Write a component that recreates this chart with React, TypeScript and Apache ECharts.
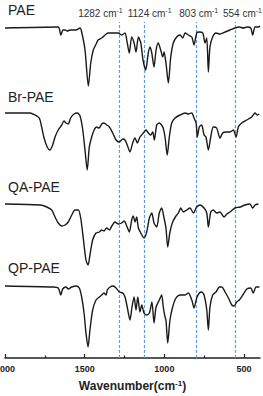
import React, { useEffect, useRef } from "react";
import * as echarts from "echarts";

// ---- data (wavenumber in cm^-1, relative transmittance) ----
const SERIES_NAMES = ["PAE", "Br-PAE", "QA-PAE", "QP-PAE"];

const PAE_WN = [2000, 1667, 1650, 1636, 1623, 1610, 1590, 1555, 1529, 1519, 1498, 1477, 1462, 1446, 1425, 1416, 1393, 1372, 1354, 1329, 1310, 1291, 1268, 1247, 1234, 1220, 1205, 1190, 1178, 1163, 1148, 1134, 1117, 1101, 1090, 1079, 1065, 1052, 1038, 1023, 1010, 1002, 990, 975, 960, 944, 923, 902, 885, 870, 850, 828, 814, 797, 781, 759, 745, 734, 724, 714, 697, 676, 651, 619, 588, 557, 530, 505, 480, 458, 446, 431, 410, 400];
const PAE_T = [100, 101, 93, 98, 98, 97, 98, 98, 100, 96, 78, 42, 65, 78, 85, 88, 90, 93, 95, 95, 95, 95, 93, 95, 86, 75, 91, 85, 76, 91, 85, 68, 58, 75, 81, 75, 61, 78, 85, 78, 71, 76, 65, 45, 71, 85, 91, 93, 90, 95, 93, 91, 83, 95, 96, 95, 85, 90, 56, 81, 91, 95, 94, 96, 98, 100, 101, 100, 101, 100, 93, 101, 101, 102];

const BR_WN = [2000, 1843, 1812, 1785, 1770, 1755, 1735, 1718, 1701, 1686, 1666, 1644, 1630, 1617, 1603, 1588, 1567, 1546, 1529, 1512, 1498, 1484, 1471, 1456, 1441, 1425, 1410, 1393, 1379, 1362, 1345, 1324, 1303, 1283, 1261, 1247, 1233, 1216, 1199, 1184, 1170, 1153, 1132, 1115, 1101, 1086, 1073, 1063, 1048, 1032, 1010, 996, 982, 969, 954, 933, 902, 870, 850, 828, 814, 801, 793, 781, 766, 751, 739, 724, 709, 693, 672, 651, 634, 613, 588, 567, 550, 536, 515, 483, 452, 431, 417, 404];
const BR_T = [100, 100, 98, 95, 86, 75, 66, 63, 68, 76, 83, 88, 92, 90, 89, 95, 99, 100, 97, 83, 63, 43, 66, 76, 83, 86, 85, 89, 90, 88, 86, 80, 73, 71, 74, 73, 68, 61, 70, 75, 70, 76, 80, 83, 80, 78, 81, 73, 88, 90, 86, 76, 58, 76, 90, 95, 98, 100, 99, 100, 95, 90, 76, 86, 88, 78, 76, 63, 76, 86, 85, 75, 80, 81, 81, 83, 76, 86, 90, 93, 96, 100, 98, 99];

const QA_WN = [2000, 1780, 1738, 1707, 1686, 1666, 1644, 1623, 1603, 1581, 1561, 1540, 1525, 1509, 1492, 1479, 1467, 1450, 1429, 1408, 1393, 1379, 1362, 1345, 1330, 1310, 1289, 1268, 1253, 1236, 1220, 1205, 1195, 1184, 1174, 1163, 1148, 1128, 1111, 1094, 1079, 1065, 1048, 1032, 1017, 1002, 990, 979, 965, 948, 927, 912, 897, 881, 860, 839, 818, 797, 776, 751, 734, 724, 709, 693, 672, 651, 626, 608, 588, 557, 525, 494, 463, 446, 431, 410];
const QA_T = [101, 100, 98, 95, 88, 82, 79, 80, 83, 90, 95, 95, 87, 67, 45, 40, 50, 65, 72, 73, 75, 74, 77, 75, 79, 83, 81, 82, 84, 79, 73, 85, 89, 83, 88, 77, 72, 67, 73, 87, 92, 82, 78, 92, 97, 87, 77, 58, 73, 83, 89, 92, 97, 93, 95, 97, 92, 98, 100, 97, 92, 78, 93, 95, 92, 93, 88, 91, 93, 97, 98, 100, 101, 97, 100, 101];

const QP_WN = [2000, 1697, 1666, 1650, 1638, 1617, 1603, 1581, 1555, 1534, 1519, 1504, 1492, 1479, 1467, 1450, 1429, 1408, 1393, 1379, 1366, 1358, 1341, 1320, 1303, 1283, 1261, 1247, 1233, 1216, 1203, 1190, 1178, 1167, 1153, 1142, 1128, 1111, 1094, 1078, 1065, 1052, 1032, 1017, 1007, 996, 990, 979, 965, 948, 927, 902, 870, 850, 828, 814, 797, 781, 766, 751, 734, 724, 714, 697, 676, 655, 640, 619, 598, 577, 563, 546, 530, 508, 483, 458, 442, 425, 404];
const QP_T = [100, 99, 98, 91, 97, 99, 97, 99, 100, 98, 89, 73, 53, 39, 56, 76, 86, 89, 91, 93, 91, 96, 99, 100, 98, 94, 93, 89, 79, 66, 79, 89, 76, 89, 74, 81, 73, 71, 73, 84, 63, 79, 86, 91, 79, 69, 66, 43, 66, 79, 88, 91, 91, 93, 86, 78, 88, 93, 94, 91, 76, 56, 79, 91, 94, 99, 99, 94, 88, 81, 80, 84, 86, 91, 97, 98, 93, 99, 99];

const MARK_WN = [1282, 1124, 803, 554];
const MAJOR_TICKS = [2000, 1500, 1000, 500];
const MINOR_TICKS = [1750, 1250, 750];

// vertical stacking offsets of the traces (layout)
const OFFSETS = [330, 245, 153, 72];
const NAME_Y = [9.5, 97, 187, 268];
const MARK_LABEL_DX = [-19, 5, 3, 7];

const FONT = "'Liberation Sans', Arial, sans-serif";

export default function App() {
  const ref = useRef<HTMLDivElement>(null);
  useEffect(() => {
    const chart = echarts.init(ref.current!, null, { renderer: "svg" });
    const sets = [
      [PAE_WN, PAE_T],
      [BR_WN, BR_T],
      [QA_WN, QA_T],
      [QP_WN, QP_T],
    ];
    const series: any[] = sets.map(([wn, t], i) => ({
      type: "line",
      name: SERIES_NAMES[i],
      xAxisIndex: 0,
      yAxisIndex: 0,
      data: wn.map((w, j) => [w, OFFSETS[i] + t[j] - 100]),
      showSymbol: false,
      smooth: 0.25,
      lineStyle: { color: "#1a1a1a", width: 1.4 },
      z: 3,
      markLine:
        i === 0
          ? {
              silent: true,
              symbol: ["none", "none"],
              z: 1,
              lineStyle: { color: "#5a9ee0", type: [3, 2], width: 1.2, opacity: 1 },
              label: {
                show: true,
                position: "end",
                distance: 3,
                color: "#333",
                fontSize: 10,
                fontFamily: FONT,
                formatter: (p: any) => `${p.value} cm{sup|-1}`,
                rich: {
                  sup: { fontSize: 7, fontFamily: FONT, color: "#333", verticalAlign: "top", padding: [0, 0, 5, 0] },
                },
              },
              data: MARK_WN.map((w, k) => ({ xAxis: w, label: { offset: [MARK_LABEL_DX[k], 0] } })),
            }
          : undefined,
    }));

    const gridBox = { left: 5, right: 3, top: 22, bottom: 38, containLabel: false, outerBoundsMode: "none" };

    chart.setOption({
      animation: false,
      backgroundColor: "#ffffff",
      grid: [{ ...gridBox }, { ...gridBox }],
      xAxis: [
        {
          type: "value",
          gridIndex: 0,
          min: 400,
          max: 2000,
          inverse: true,
          position: "bottom",
          axisLine: { show: true, onZero: false, lineStyle: { color: "#222", width: 1.5 } },
          axisTick: { show: true, inside: true, length: 4, customValues: MAJOR_TICKS, lineStyle: { color: "#222", width: 1.2 } },
          axisLabel: {
            customValues: MAJOR_TICKS,
            formatter: (v: number) => String(v),
            fontSize: 9,
            fontWeight: "bold",
            color: "#222",
            margin: 6,
            fontFamily: FONT,
          },
          splitLine: { show: false },
          name: "Wavenumber(cm{sup|-1})",
          nameLocation: "middle",
          nameGap: 21,
          nameTextStyle: {
            fontSize: 12,
            fontWeight: "bold",
            color: "#222",
            fontFamily: FONT,
            rich: { sup: { fontSize: 8, fontWeight: "bold", color: "#222", fontFamily: FONT, verticalAlign: "top", padding: [0, 0, 6, 0] } },
          },
        },
        {
          type: "value",
          gridIndex: 1,
          min: 400,
          max: 2000,
          inverse: true,
          position: "bottom",
          axisLine: { show: false },
          axisTick: { show: true, inside: true, length: 2.5, customValues: MINOR_TICKS, lineStyle: { color: "#222", width: 1.2 } },
          axisLabel: { show: false },
          splitLine: { show: false },
        },
      ],
      yAxis: [
        { type: "value", gridIndex: 0, min: 0, max: 336, show: false },
        { type: "value", gridIndex: 1, min: 0, max: 336, show: false },
      ],
      graphic: SERIES_NAMES.map((n, i) => ({
        type: "text",
        x: 8,
        y: NAME_Y[i],
        style: { text: n, fontSize: 14, fontFamily: FONT, fill: "#222", verticalAlign: "middle", align: "left" },
      })),
      series,
    });
    return () => chart.dispose();
  }, []);
  return <div ref={ref} style={{ position: "fixed", left: 0, top: 0, width: 263, height: 396 }} />;
}
